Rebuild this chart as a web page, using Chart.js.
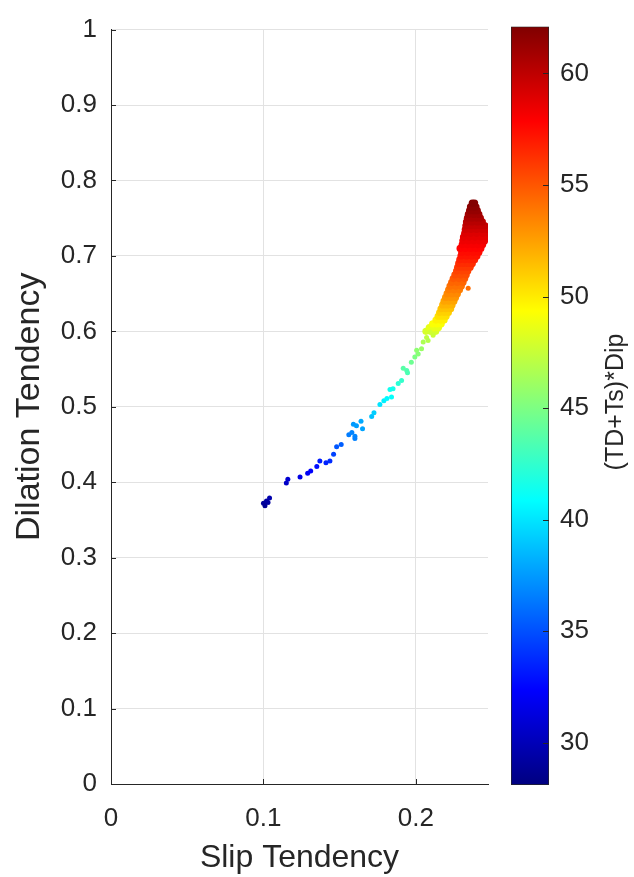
<!DOCTYPE html>
<html>
<head>
<meta charset="utf-8">
<script src="https://cdn.jsdelivr.net/npm/chart.js@4.4.1/dist/chart.umd.min.js"></script>
<style>
    html, body { margin: 0; padding: 0; background: #fff; }
    #wrap { position: relative; width: 634px; height: 877px; }
    #mainChart { position: absolute; left: 0; top: 0; }
    #barChart { position: absolute; left: 490px; top: 0; }
</style>
</head>
<body>
<div id="wrap">
    <canvas id="mainChart" width="634" height="877"></canvas>
    <canvas id="barChart" width="144" height="877"></canvas>
</div>
<script>
// axis ticks
const slipTicks = [0, 0.1, 0.2];
const dilationTicks = [0, 0.1, 0.2, 0.3, 0.4, 0.5, 0.6, 0.7, 0.8, 0.9, 1];
const cbTicks = [30, 35, 40, 45, 50, 55, 60];
const slipMax = 0.2473;
const cbMin = 28.1;
const cbMax = 62.1;

// sparse lower branch of the curve
const lowSlip = [0.100, 0.102, 0.104, 0.101, 0.103, 0.115, 0.116, 0.124, 0.129, 0.131, 0.135, 0.137,
    0.141, 0.1436, 0.146, 0.148, 0.151, 0.156, 0.158, 0.160, 0.160, 0.159, 0.161, 0.164, 0.165, 0.171,
    0.1725, 0.1764, 0.179, 0.181, 0.184, 0.185, 0.183, 0.1884, 0.1906, 0.1917, 0.194, 0.1945, 0.197,
    0.1993, 0.2015, 0.2005, 0.2037, 0.2048, 0.207, 0.2092, 0.2113, 0.208, 0.2343];
const lowDilation = [0.372, 0.375, 0.379, 0.369, 0.373, 0.399, 0.404, 0.407, 0.412, 0.415, 0.421, 0.428,
    0.426, 0.428, 0.437, 0.447, 0.450, 0.463, 0.466, 0.461, 0.458, 0.477, 0.475, 0.481, 0.471, 0.487,
    0.492, 0.503, 0.508, 0.511, 0.513, 0.524, 0.523, 0.531, 0.535, 0.551, 0.548, 0.545, 0.559,
    0.566, 0.570, 0.575, 0.577, 0.586, 0.592, 0.599, 0.595, 0.588, 0.657];
const lowValue = [29.0, 29.3, 29.6, 28.8, 29.2, 30.5, 30.8, 31.5, 32.0, 32.3, 32.8, 33.3,
    33.5, 33.8, 34.5, 35.2, 35.5, 36.5, 36.7, 36.8, 36.6, 37.5, 37.6, 38.0, 37.8, 38.8,
    39.2, 40.0, 40.4, 40.7, 41.0, 41.6, 41.4, 42.2, 42.6, 43.8, 43.6, 43.4, 44.5,
    45.0, 45.4, 45.6, 46.0, 46.6, 47.2, 47.8, 47.6, 46.9, 54.2];

// dense upper cluster, read row by row (dilation level, colour value, slip positions)
const clusterDilation = [0.600, 0.605, 0.610, 0.615, 0.620, 0.625, 0.630, 0.635, 0.640, 0.645, 0.650, 0.655,
    0.660, 0.665, 0.670, 0.675, 0.680, 0.685, 0.690, 0.695, 0.700, 0.705, 0.710, 0.715, 0.720, 0.725,
    0.730, 0.735, 0.740, 0.745, 0.750, 0.755, 0.760, 0.765, 0.770];
const clusterValue = [48.0, 48.6, 49.2, 49.8, 50.4, 50.9, 51.4, 51.9, 52.4, 52.9, 53.3, 53.7,
    54.1, 54.5, 54.9, 55.3, 55.6, 56.0, 56.4, 56.8, 57.2, 57.5, 57.8, 58.1, 58.4, 58.7,
    59.0, 59.4, 59.8, 60.2, 60.6, 61.0, 61.4, 61.7, 62.0];
const clusterSlip = [
    [0.2066, 0.2098, 0.2130],
    [0.2088, 0.2118, 0.2148],
    [0.2110, 0.2140, 0.2166],
    [0.2132, 0.2160, 0.2185],
    [0.2146, 0.2172, 0.2198],
    [0.2156, 0.2186, 0.2213],
    [0.2165, 0.2196, 0.2228],
    [0.2176, 0.2206, 0.2237],
    [0.2185, 0.2216, 0.2249],
    [0.2195, 0.2228, 0.2260],
    [0.2205, 0.2238, 0.2272],
    [0.2215, 0.2250, 0.2286],
    [0.2224, 0.2262, 0.2298],
    [0.2235, 0.2272, 0.2309],
    [0.2245, 0.2282, 0.2320],
    [0.2256, 0.2294, 0.2330],
    [0.2267, 0.2304, 0.2340],
    [0.2274, 0.2302, 0.2330, 0.2356],
    [0.2281, 0.2311, 0.2341, 0.2370],
    [0.2288, 0.2321, 0.2354, 0.2385],
    [0.2296, 0.2331, 0.2366, 0.2400],
    [0.2301, 0.2339, 0.2377, 0.2413],
    [0.2290, 0.2325, 0.2360, 0.2395, 0.2426],
    [0.2304, 0.2338, 0.2372, 0.2406, 0.2438],
    [0.2308, 0.2344, 0.2380, 0.2416, 0.2450],
    [0.2312, 0.2350, 0.2388, 0.2426, 0.2461],
    [0.2320, 0.2359, 0.2398, 0.2437, 0.2474],
    [0.2324, 0.2361, 0.2398, 0.2435, 0.2468],
    [0.2328, 0.2360, 0.2392, 0.2424, 0.2453],
    [0.2332, 0.2368, 0.2404, 0.2436],
    [0.2338, 0.2368, 0.2398, 0.2423],
    [0.2344, 0.2380, 0.2413],
    [0.2352, 0.2378, 0.2403],
    [0.2358, 0.2380, 0.2394],
    [0.2370, 0.2385]
];

const fontFamily = '"Liberation Sans", Arial, Helvetica, sans-serif';
const ink = '#262626';

// MATLAB jet colormap
function jet(v) {
    const t = Math.min(1, Math.max(0, (v - cbMin) / (cbMax - cbMin)));
    const ch = k => Math.round(255 * Math.min(1, Math.max(0, 1.5 - Math.abs(4 * t - k))));
    return 'rgb(' + ch(3) + ',' + ch(2) + ',' + ch(1) + ')';
}

// build point lists
const lowPoints = lowSlip.map((x, i) => ({ x: x, y: lowDilation[i] }));
const lowColors = lowValue.map(jet);
const clusterPoints = [];
const clusterColors = [];
clusterSlip.forEach((row, r) => {
    row.forEach(x => {
        clusterPoints.push({ x: x, y: clusterDilation[r] });
        clusterColors.push(jet(clusterValue[r]));
    });
});

// inward tick marks like matlab
const innerTicks = {
    id: 'innerTicks',
    afterDraw(chart) {
        const { ctx, chartArea, scales } = chart;
        ctx.save();
        ctx.strokeStyle = ink;
        ctx.lineWidth = 1;
        ctx.beginPath();
        scales.x.ticks.forEach(t => {
            const px = Math.round(scales.x.getPixelForValue(t.value)) + 0.5;
            ctx.moveTo(px, chartArea.bottom);
            ctx.lineTo(px, chartArea.bottom - 5);
        });
        scales.y.ticks.forEach(t => {
            const py = Math.round(scales.y.getPixelForValue(t.value)) + 0.5;
            ctx.moveTo(chartArea.left, py);
            ctx.lineTo(chartArea.left + 5, py);
        });
        ctx.stroke();
        ctx.restore();
    }
};

new Chart(document.getElementById('mainChart'), {
    type: 'scatter',
    data: {
        datasets: [{
            data: lowPoints,
            pointBackgroundColor: lowColors,
            pointBorderWidth: 0,
            pointRadius: 2.5,
            pointHoverRadius: 2.5
        }, {
            data: clusterPoints,
            pointBackgroundColor: clusterColors,
            pointBorderWidth: 0,
            pointRadius: 3.6,
            pointHoverRadius: 3.6
        }]
    },
    options: {
        responsive: false,
        animation: false,
        devicePixelRatio: 1,
        layout: { padding: { left: 0, right: 146, top: 20, bottom: 0 } },
        plugins: { legend: { display: false }, tooltip: { enabled: false } },
        scales: {
            x: {
                type: 'linear',
                min: 0,
                max: slipMax,
                afterBuildTicks: s => { s.ticks = slipTicks.map(v => ({ value: v })); },
                afterFit: s => { s.height = 93; },
                grid: { color: '#e2e2e2', drawTicks: false },
                border: { color: ink, width: 1 },
                ticks: { padding: 19, color: ink, font: { family: fontFamily, size: 26 }, callback: v => String(v) },
                title: { display: true, text: 'Slip Tendency', color: ink, font: { family: fontFamily, size: 32 }, padding: { top: 0, bottom: 0 } }
            },
            y: {
                min: 0,
                max: 1,
                afterBuildTicks: s => { s.ticks = dilationTicks.map(v => ({ value: v })); },
                afterFit: s => { s.width = 111; },
                grid: { color: '#e2e2e2', drawTicks: false },
                border: { color: ink, width: 1 },
                ticks: { padding: 14, color: ink, font: { family: fontFamily, size: 26 }, callback: v => String(v) },
                title: { display: true, text: 'Dilation Tendency', color: ink, font: { family: fontFamily, size: 34 }, padding: { top: 9, bottom: 0 } }
            }
        }
    },
    plugins: [innerTicks]
});

// colorbar
function jetGradient(chart) {
    const area = chart.chartArea;
    if (!area) return jet(cbMin);
    const g = chart.ctx.createLinearGradient(0, area.bottom, 0, area.top);
    for (let i = 0; i <= 32; i++) {
        g.addColorStop(i / 32, jet(cbMin + (cbMax - cbMin) * i / 32));
    }
    return g;
}

const cbExtras = {
    id: 'cbExtras',
    afterDraw(chart) {
        const { ctx, chartArea, scales } = chart;
        ctx.save();
        ctx.strokeStyle = ink;
        ctx.lineWidth = 1;
        ctx.beginPath();
        scales.y.ticks.forEach(t => {
            const py = Math.round(scales.y.getPixelForValue(t.value)) + 0.5;
            ctx.moveTo(chartArea.right, py);
            ctx.lineTo(chartArea.right - 6, py);
        });
        ctx.stroke();
        ctx.translate(126, 402);
        ctx.rotate(-Math.PI / 2);
        ctx.fillStyle = ink;
        ctx.font = '25px ' + fontFamily;
        ctx.textAlign = 'center';
        ctx.textBaseline = 'middle';
        ctx.fillText('(TD+Ts)*Dip', 0, 0);
        ctx.restore();
    }
};

new Chart(document.getElementById('barChart'), {
    type: 'bar',
    data: {
        labels: [''],
        datasets: [{
            data: [[cbMin, cbMax]],
            backgroundColor: c => jetGradient(c.chart),
            borderColor: ink,
            borderWidth: 1,
            borderSkipped: false,
            barPercentage: 1,
            categoryPercentage: 1
        }]
    },
    options: {
        responsive: false,
        animation: false,
        devicePixelRatio: 1,
        layout: { padding: { left: 21, right: 0, top: 20, bottom: 92 } },
        plugins: { legend: { display: false }, tooltip: { enabled: false } },
        scales: {
            x: { display: false },
            y: {
                position: 'right',
                min: cbMin,
                max: cbMax,
                afterBuildTicks: s => { s.ticks = cbTicks.map(v => ({ value: v })); },
                afterFit: s => { s.width = 85; },
                grid: { display: false, drawTicks: false },
                border: { display: false },
                ticks: { padding: 11, color: ink, font: { family: fontFamily, size: 26 } }
            }
        }
    },
    plugins: [cbExtras]
});
</script>
</body>
</html>
